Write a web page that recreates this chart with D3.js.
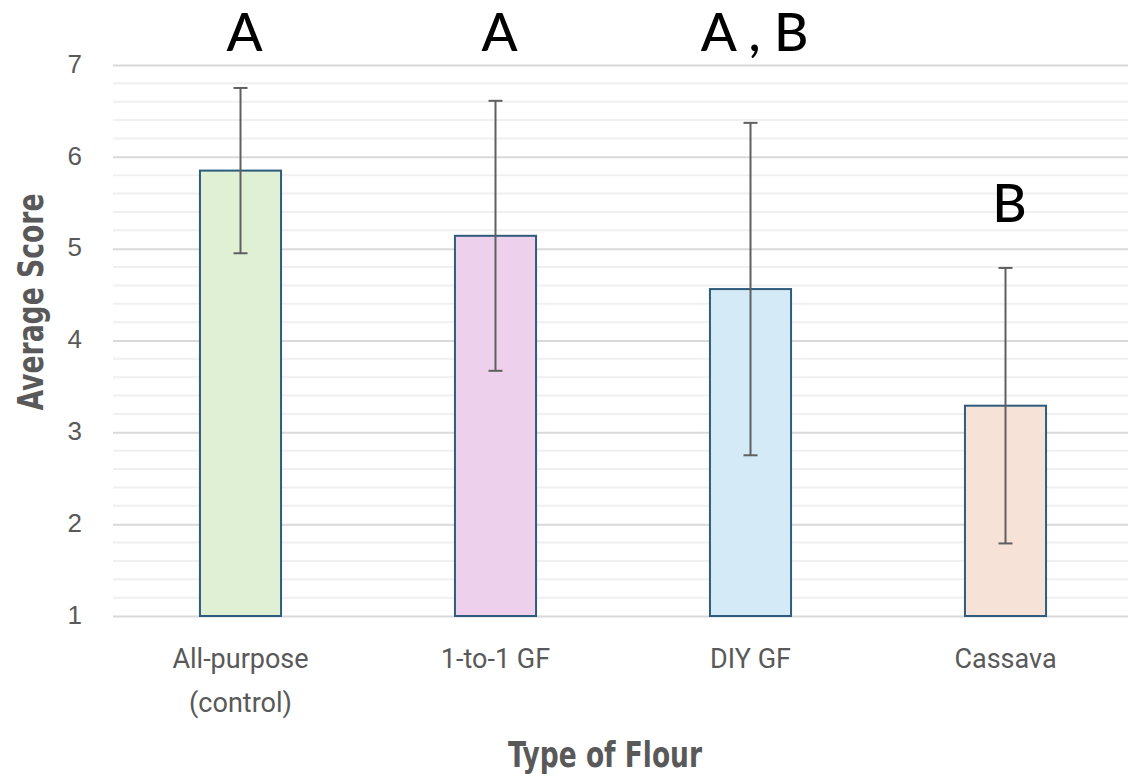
<!DOCTYPE html>
<html>
<head>
<meta charset="utf-8">
<script src="https://cdn.jsdelivr.net/npm/d3@7"></script>
<style>
  html, body { margin: 0; padding: 0; background: #fff; }
  svg { display: block; }
</style>
</head>
<body>
<svg id="chart" width="1128" height="777"></svg>
<script>
// Flour types and their mean sensory scores with error bar half-widths
const categories = ["All-purpose\n(control)", "1-to-1 GF", "DIY GF", "Cassava"];
const means = [5.85, 5.14, 4.56, 3.29];
const errors = [0.90, 1.47, 1.81, 1.50];
const groupLetters = ["A", "A", "A , B", "B"];
const fills = ["#dff0d4", "#ecd0ec", "#d4ebf7", "#f6e2d7"];
const yTicks = [1, 2, 3, 4, 5, 6, 7];

const svg = d3.select("#chart");
const plotLeft = 113, plotRight = 1133, plotTop = 65, plotBottom = 616;

const y = d3.scaleLinear().domain([1, 7]).range([plotBottom, plotTop]);
const x = d3.scaleBand()
  .domain(categories)
  .range([plotLeft, plotRight])
  .paddingInner(0.682)
  .paddingOuter(0.341);

// minor gridlines every 0.2
const minor = d3.range(1, 7.001, 0.2).filter(v => Math.abs(v - Math.round(v)) > 1e-6);
svg.append("g").selectAll("line").data(minor).join("line")
  .attr("x1", plotLeft).attr("x2", plotRight)
  .attr("y1", d => y(d)).attr("y2", d => y(d))
  .attr("stroke", "#f0f0f0").attr("stroke-width", 2);

// major gridlines + y tick labels via axis
const yAxis = d3.axisLeft(y).tickValues(yTicks).tickSize(-(plotRight - plotLeft)).tickPadding(31).tickFormat(d3.format("d"));
const gy = svg.append("g").attr("transform", `translate(${plotLeft},0)`).call(yAxis);
gy.select(".domain").remove();
gy.selectAll(".tick line").attr("stroke", "#d9d9d9").attr("stroke-width", 2);
gy.selectAll(".tick text")
  .attr("fill", "#595959")
  .attr("dy", "0.28em")
  .style("font-family", "'Liberation Sans', Arial, sans-serif")
  .style("font-size", "26px");

// bars
svg.append("g").selectAll("rect").data(categories).join("rect")
  .attr("x", d => x(d))
  .attr("y", (d, i) => y(means[i]))
  .attr("width", x.bandwidth())
  .attr("height", (d, i) => y(1) - y(means[i]))
  .attr("fill", (d, i) => fills[i])
  .attr("stroke", "#2f5b7c")
  .attr("stroke-width", 2);

// error bars
const eg = svg.append("g").attr("stroke", "#5f5f5f").attr("stroke-width", 2);
categories.forEach((c, i) => {
  const cx = x(c) + x.bandwidth() / 2;
  const hi = y(means[i] + errors[i]), lo = y(means[i] - errors[i]);
  eg.append("line").attr("x1", cx).attr("x2", cx).attr("y1", hi).attr("y2", lo);
  eg.append("line").attr("x1", cx - 7).attr("x2", cx + 7).attr("y1", hi).attr("y2", hi);
  eg.append("line").attr("x1", cx - 7).attr("x2", cx + 7).attr("y1", lo).attr("y2", lo);
});

// significance letters above each bar
svg.append("g").selectAll("text").data(categories).join("text")
  .attr("x", d => x(d) + x.bandwidth() / 2 + 4)
  .attr("y", (d, i) => {
    const t = y(means[i] + errors[i]);
    return t > 200 ? t - 46 : 51;
  })
  .attr("text-anchor", "middle")
  .attr("fill", "#000")
  .style("font-family", "Lato, 'Open Sans', sans-serif")
  .style("font-size", "53px")
  .style("font-weight", 500)
  .text((d, i) => groupLetters[i]);

// category labels
const xl = svg.append("g");
categories.forEach(c => {
  const lines = c.split("\n");
  const t = xl.append("text")
    .attr("x", x(c) + x.bandwidth() / 2)
    .attr("y", 668)
    .attr("text-anchor", "middle")
    .attr("fill", "#595959")
    .style("font-family", "Roboto, sans-serif")
    .style("font-size", "27px");
  lines.forEach((ln, k) => {
    t.append("tspan").attr("x", x(c) + x.bandwidth() / 2).attr("dy", k === 0 ? 0 : 44).text(ln);
  });
});

// axis titles (narrow bold)
svg.append("text")
  .attr("transform", `translate(43,302) rotate(-90)`)
  .attr("text-anchor", "middle")
  .attr("fill", "#595959")
  .attr("textLength", 217)
  .attr("lengthAdjust", "spacingAndGlyphs")
  .style("font-family", "'DejaVu Sans Condensed', 'DejaVu Sans', sans-serif")
  .style("font-weight", "bold")
  .style("font-size", "35px")
  .text("Average Score");

svg.append("text")
  .attr("x", 605).attr("y", 767)
  .attr("text-anchor", "middle")
  .attr("fill", "#595959")
  .attr("textLength", 194)
  .attr("lengthAdjust", "spacingAndGlyphs")
  .style("font-family", "'DejaVu Sans Condensed', 'DejaVu Sans', sans-serif")
  .style("font-weight", "bold")
  .style("font-size", "36px")
  .text("Type of Flour");
</script>
</body>
</html>
